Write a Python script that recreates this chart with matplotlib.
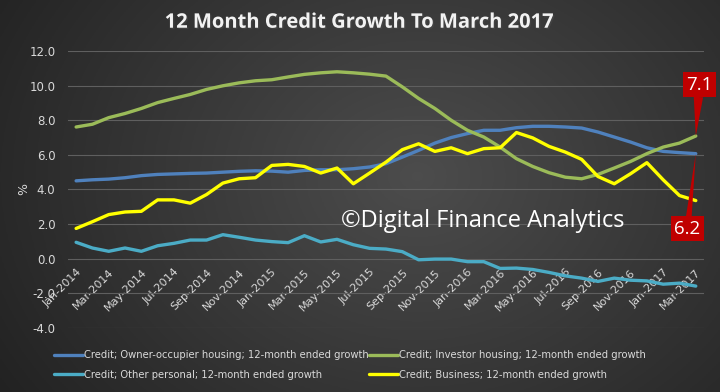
import numpy as np
import pandas as pd
import matplotlib
matplotlib.use("Agg")
import matplotlib.pyplot as plt
import matplotlib.patheffects as pe

# DANE, miesiące Jan-2014 .. Mar-2017
months = pd.date_range("2014-01-01", periods=39, freq="MS").strftime("%b-%Y").tolist()

owner_occupier = [4.5, 4.56, 4.6, 4.68, 4.8, 4.87, 4.9, 4.93, 4.95, 5.0,
                  5.05, 5.08, 5.06, 5.0, 5.1, 5.14, 5.14, 5.2, 5.3, 5.49,
                  5.87, 6.26, 6.68, 7.0, 7.23, 7.42, 7.42, 7.57, 7.65, 7.65,
                  7.61, 7.55, 7.32, 7.03, 6.74, 6.41, 6.2, 6.13, 6.07]
investor = [7.61, 7.77, 8.15, 8.39, 8.68, 9.02, 9.26, 9.49, 9.78, 9.99,
            10.16, 10.28, 10.34, 10.5, 10.65, 10.74, 10.8, 10.74, 10.66, 10.55,
            9.93, 9.26, 8.68, 8.0, 7.42, 7.03, 6.45, 5.78, 5.33, 4.97,
            4.71, 4.62, 4.87, 5.24, 5.62, 6.07, 6.45, 6.68, 7.09]
other_personal = [0.95, 0.62, 0.43, 0.62, 0.43, 0.75, 0.89, 1.08, 1.08, 1.39,
                  1.24, 1.08, 0.99, 0.93, 1.33, 0.97, 1.12, 0.81, 0.6, 0.56,
                  0.41, -0.06, -0.02, -0.02, -0.17, -0.17, -0.56, -0.54, -0.62, -0.79,
                  -0.99, -1.12, -1.31, -1.12, -1.24, -1.28, -1.47, -1.41, -1.58]
business = [1.75, 2.14, 2.55, 2.7, 2.74, 3.4, 3.4, 3.21, 3.71, 4.37,
            4.62, 4.68, 5.39, 5.45, 5.33, 4.95, 5.24, 4.33, 4.95, 5.58,
            6.3, 6.64, 6.2, 6.41, 6.07, 6.36, 6.41, 7.29, 6.98, 6.49,
            6.16, 5.74, 4.75, 4.33, 4.91, 5.55, 4.56, 3.65, 3.36]

series_names = ["Credit; Owner-occupier housing; 12-month ended growth",
                "Credit; Investor housing; 12-month ended growth",
                "Credit; Other personal; 12-month ended growth",
                "Credit; Business; 12-month ended growth"]
series_colors = ["#4f81bd", "#9bbb59", "#4bacc6", "#ffff00"]
callout_labels = ["7.1", "6.2"]

plt.rcParams['font.family'] = ['Liberation Sans Narrow', 'DejaVu Sans']

fig = plt.figure(figsize=(7.2, 3.92), dpi=100)

# tło z gradientem
bg = fig.add_axes([0, 0, 1, 1], zorder=-10)
gx, gy = np.meshgrid(np.linspace(0, 1, 360), np.linspace(0, 1, 196))
dist = np.sqrt(((gx - 0.58) / 0.75) ** 2 + ((gy - 0.45) / 1.1) ** 2)
dist = np.clip(dist, 0, 1)
shade = 0.30 - 0.18 * dist
bg.imshow(np.dstack([shade, shade, shade]), aspect="auto", extent=[0, 1, 0, 1])
bg.axis("off")

ax = fig.add_axes([0.0944, 0.1633, 0.8833, 0.7066])
ax.patch.set_alpha(0)

x = np.arange(len(months))
all_series = [owner_occupier, investor, other_personal, business]
lines = []
for vals, name, col in zip(all_series, series_names, series_colors):
    ln, = ax.plot(x, vals, color=col, lw=2.4, label=name, solid_capstyle="round")
    lines.append(ln)

ax.set_xlim(-0.5, len(months) - 0.5)
ax.set_ylim(-4, 12)
ax.set_yticks(np.arange(-4, 13, 2))
ax.set_yticklabels([f"{v:.1f}" for v in np.arange(-4, 13, 2)])
ax.grid(axis="y", color="#5f5f5f", lw=0.8)
ax.set_axisbelow(True)
for s in ["top", "right", "left"]:
    ax.spines[s].set_visible(False)
ax.spines["bottom"].set_position(("data", 0))
ax.spines["bottom"].set_visible(False)

ax.set_xticks(x[::2])
ax.set_xticklabels(months[::2], rotation=45, ha="right", rotation_mode="anchor")
ax.tick_params(axis="x", length=0, pad=6, labelsize=8, labelcolor="#d9d9d9")
ax.tick_params(axis="y", length=0, pad=9, labelsize=8.5, labelcolor="#d9d9d9")
ax.set_ylabel("%", color="#d9d9d9", fontsize=9)
ax.yaxis.set_label_coords(-0.06, 0.5)

fig.text(0.499, 0.942, "12 Month Credit Growth To March 2017", ha="center", va="center",
         fontsize=14.5, fontweight="bold", color="#f2f2f2", family=["Open Sans", "DejaVu Sans"],
         path_effects=[pe.withSimplePatchShadow(offset=(1, -1), alpha=0.6)])

ax.text(0.43, 0.388, "\u00a9Digital Finance Analytics", transform=ax.transAxes,
        ha="left", va="center", fontsize=17, color="white", family=["Open Sans", "DejaVu Sans"])

# objaśnienia ostatnich wartości
last = len(months) - 1
ax.annotate(callout_labels[0], xy=(last, investor[-1]), xytext=(2.5, 37), textcoords="offset points",
            ha="center", va="center", fontsize=13.5, color="white", family=["Open Sans", "DejaVu Sans"],
            bbox=dict(boxstyle="square,pad=0.18", fc="#c00000", ec="none"),
            arrowprops=dict(arrowstyle="wedge,tail_width=0.5", fc="#c00000", ec="none",
                            shrinkA=0, shrinkB=0))
ax.annotate(callout_labels[1], xy=(last, owner_occupier[-1]), xytext=(-6, -54), textcoords="offset points",
            ha="center", va="center", fontsize=13.5, color="white", family=["Open Sans", "DejaVu Sans"],
            bbox=dict(boxstyle="square,pad=0.18", fc="#c00000", ec="none"),
            arrowprops=dict(arrowstyle="wedge,tail_width=0.3", fc="#c00000", ec="none",
                            shrinkA=0, shrinkB=0))

# legenda: wiersz 1 = mieszkania, wiersz 2 = pozostałe
leg_order = [0, 2, 1, 3]
leg = fig.legend(handles=[lines[i] for i in leg_order], loc="lower left", bbox_to_anchor=(0.062, 0.008),
                 ncol=2, frameon=False, fontsize=7.2, labelcolor="#d9d9d9", handlelength=2.9,
                 handletextpad=0.1, columnspacing=0.1, labelspacing=0.95)

fig.savefig("out.png", dpi=100)
